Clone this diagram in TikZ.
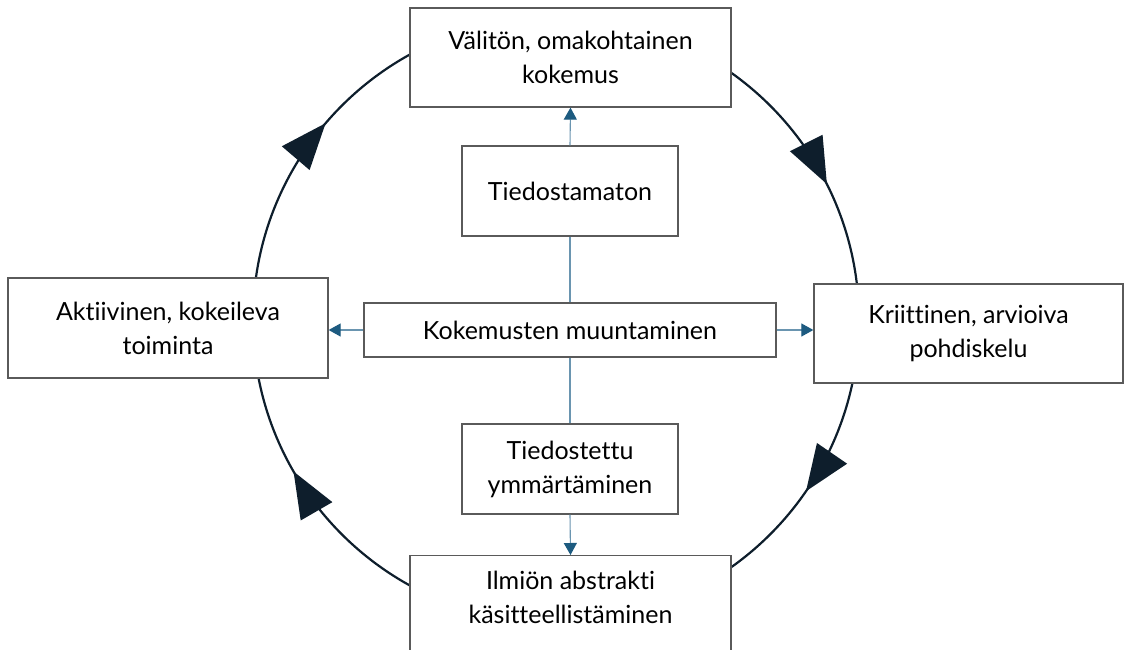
\documentclass[tikz,border=0pt]{standalone}
\usepackage{fontspec}
\setmainfont{Lato}[Ligatures={NoCommon,NoRare}]
\usetikzlibrary{arrows.meta,decorations.markings}
\definecolor{ring}{HTML}{0E1E2C}
\definecolor{boxline}{HTML}{5A5A5A}
\definecolor{linkline}{HTML}{6A95B0}
\definecolor{linktip}{HTML}{1D5B80}
\tikzset{
  box/.style={draw=boxline, line width=1.3pt, fill=white, align=center,
    inner sep=0pt, font=\fontsize{25}{34}\selectfont},
  link/.style={draw=linkline, line width=1.1pt},
  linkarrow/.style={link, -{Triangle[length=12pt,width=13pt,color=linktip]}},
}
\begin{document}
\begin{tikzpicture}[x=1pt,y=-1pt]
\clip (0,0) rectangle (1124,650);
\fill[white] (0,0) rectangle (1124,650);

% the cycle, drawn clockwise with four large arrowheads
\coordinate (c) at (556,320);
\draw[ring, line width=2.2pt,
  postaction={decorate},
  decoration={markings,
    mark=at position 0.1125 with {\arrow[ring]{Triangle[length=46pt,width=36pt]}},
    mark=at position 0.426 with {\arrow[ring]{Triangle[length=46pt,width=36pt]}},
    mark=at position 0.5956 with {\arrow[ring]{Triangle[length=46pt,width=36pt]}},
    mark=at position 0.9167 with {\arrow[ring]{Triangle[length=46pt,width=36pt]}}}]
  (c) ++(180:303pt) arc[start angle=180, end angle=-180, radius=303pt];

% the four stages
\node[box, minimum width=321pt, minimum height=99pt] (top) at (570.5,57.5)
  {Välitön, omakohtainen\\kokemus};
\node[box, minimum width=320pt, minimum height=100pt] (left) at (168,328)
  {Aktiivinen, kokeileva\\toiminta};
\node[box, minimum width=309pt, minimum height=99pt] (right) at (968.5,333.5)
  {Kriittinen, arvioiva\\pohdiskelu};
\node[box, minimum width=321pt, minimum height=100pt, anchor=north] (bottom) at (570.5,555) {};
\node[align=center, inner sep=0pt, font=\fontsize{25}{34}\selectfont] (bottomtext) at (570.5,597)
  {Ilmiön abstrakti\\käsitteellistäminen};

% the inner boxes
\node[box, minimum width=412pt, minimum height=54pt] (mid) at (570,330)
  {Kokemusten muuntaminen};
\node[box, minimum width=216pt, minimum height=90pt] (uncon) at (570,191)
  {Tiedostamaton};
\node[box, minimum width=216pt, minimum height=90pt] (con) at (570,469)
  {Tiedostettu\\ymmärtäminen};

% links from the centre
\draw[link] (mid.north) -- (uncon.south);
\draw[linkarrow] (uncon.north) -- (top.south);
\draw[link] (mid.south) -- (con.north);
\draw[linkarrow] (con.south) -- (bottom.north);
\draw[linkarrow] (mid.west) -- (mid.west -| left.east);
\draw[linkarrow] (mid.east) -- (mid.east -| right.west);
\end{tikzpicture}
\end{document}
